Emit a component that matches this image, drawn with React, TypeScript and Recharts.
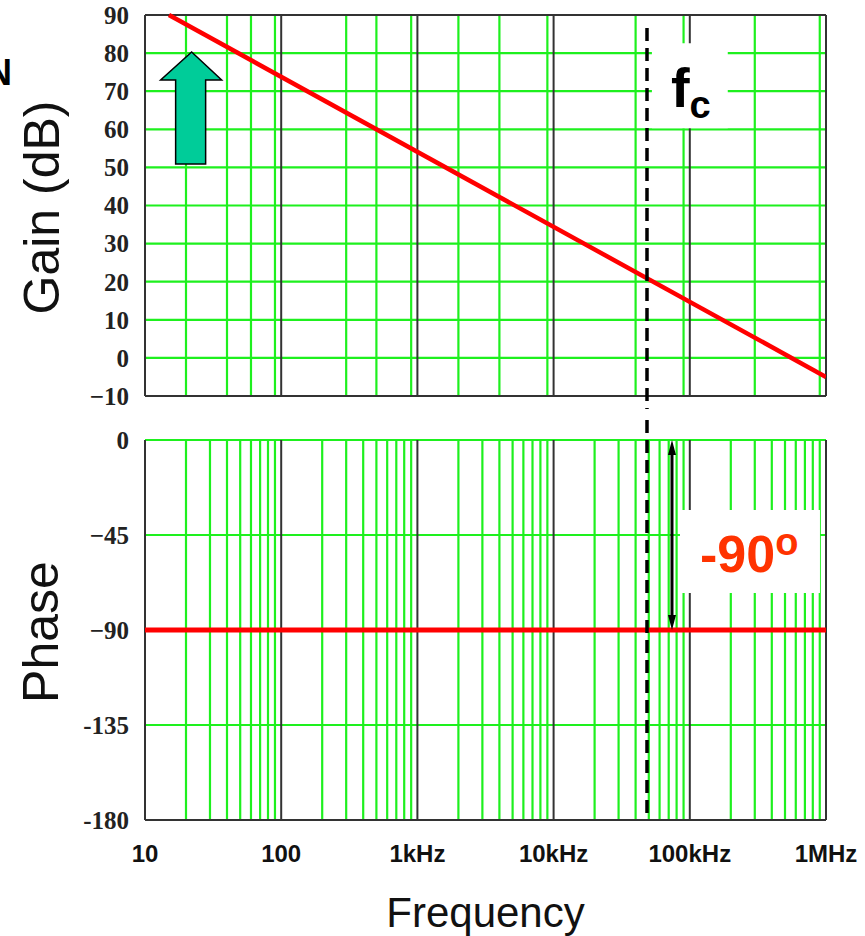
import {
  LineChart,
  Line,
  XAxis,
  YAxis,
  CartesianGrid,
  ReferenceLine,
  ReferenceArea,
  ReferenceDot,
} from "recharts";

// frequency axis
const decades = [10, 100, 1e3, 1e4, 1e5, 1e6];
const freqLabels = ["10", "100", "1kHz", "10kHz", "100kHz", "1MHz"];
const minorFreqs = [1, 10, 100, 1e3, 1e4].flatMap((d) =>
  [2, 3, 4, 5, 6, 7, 8, 9].map((m) => m * d * 10)
);

// gain panel
const gainTicks = [-10, 0, 10, 20, 30, 40, 50, 60, 70, 80, 90];
const gainLabels = ["\u221210", "0", "10", "20", "30", "40", "50", "60", "70", "80", "90"];
const gainData = [
  { f: 15, g: 90 },
  { f: 1e6, g: -5 },
];

// phase panel
const phaseTicks = [0, -45, -90, -135, -180];
const phaseLabels = ["0", "\u221245", "\u221290", "-135", "-180"];
const phaseData = [
  { f: 10, p: -90 },
  { f: 1e6, p: -90 },
];

const fc = 48500;
const arrowF = 74000;

const GREEN = "#1EF01E";
const DARK = "#333";
const RED = "#FF0000";

const yTick = {
  fill: "#222",
  fontSize: 25,
  fontWeight: "bold",
  fontFamily: "Liberation Serif",
};

const rotated = (text: string, bx: number) => ({ viewBox }: any) => (
  <text
    x={bx}
    y={viewBox.y + viewBox.height / 2 + 2}
    transform={`rotate(-90 ${bx} ${viewBox.y + viewBox.height / 2 + 2})`}
    textAnchor="middle"
    fontFamily="Arial"
    fontSize={50}
    fill="#111"
  >
    {text}
  </text>
);

const DoubleArrow = (props: any) => {
  const { x1, y1, x2, y2 } = props;
  return (
    <g>
      <line x1={x1} y1={y1 + 10} x2={x2} y2={y2 - 10} stroke="#000" strokeWidth={3} />
      <polygon points={`${x1},${y1} ${x1 - 4},${y1 + 15} ${x1 + 4},${y1 + 15}`} fill="#000" />
      <polygon points={`${x2},${y2} ${x2 - 4},${y2 - 15} ${x2 + 4},${y2 - 15}`} fill="#000" />
    </g>
  );
};

const UpArrow = ({ cx, cy }: any) => (
  <polygon
    points={[
      [cx, cy],
      [cx + 30, cy + 28],
      [cx + 14, cy + 28],
      [cx + 14, cy + 112],
      [cx - 16, cy + 112],
      [cx - 16, cy + 28],
      [cx - 31, cy + 28],
    ]
      .map((p) => p.join(","))
      .join(" ")}
    fill="#00CC99"
    stroke="#000"
    strokeWidth={1.5}
  />
);

const App = () => {
  return (
    <div style={{ position: "absolute", left: 0, top: 0, width: 865, height: 936, background: "#fff" }}>
      <div
        style={{
          position: "absolute",
          left: -14,
          top: 52,
          fontFamily: "Arial",
          fontWeight: "bold",
          fontSize: 36,
        }}
      >
        N
      </div>

      <div style={{ position: "absolute", left: 0, top: 0 }}>
        <LineChart width={865} height={420} data={gainData} margin={{ top: 15, right: 39, left: 0, bottom: 24 }}>
          <CartesianGrid
            stroke={GREEN}
            strokeWidth={2.2}
            verticalValues={minorFreqs}
            horizontalValues={gainTicks.slice(1, -1)}
          />
          <CartesianGrid
            stroke={DARK}
            strokeWidth={2}
            verticalValues={decades}
            horizontalValues={[-10, 90]}
          />
          <XAxis dataKey="f" type="number" scale="log" domain={[10, 1e6]} ticks={decades} hide allowDataOverflow />
          <YAxis
            type="number"
            domain={[-10, 90]}
            ticks={gainTicks}
            interval={0}
            width={145}
            axisLine={false}
            tickLine={false}
            tickSize={0}
            tickMargin={16}
            tick={yTick}
            tickFormatter={(v: number) => gainLabels[gainTicks.indexOf(v)]}
            label={{ content: rotated("Gain (dB)", 59) }}
          />
          <ReferenceArea
            x1={52700}
            x2={190000}
            y1={60.3}
            y2={82.6}
            fill="#fff"
            fillOpacity={1}
            stroke="none"
            ifOverflow="visible"
            label={({ viewBox }: any) => (
              <text x={viewBox.x + 19} y={viewBox.y + 64} fontFamily="Arial" fontWeight="bold" fontSize={56} fill="#000">
                f
                <tspan fontSize={38} dy={11}>
                  c
                </tspan>
              </text>
            )}
          />
          <Line
            dataKey="g"
            type="linear"
            stroke={RED}
            strokeWidth={4.5}
            dot={false}
            activeDot={false}
            isAnimationActive={false}
          />
          <ReferenceLine
            segment={[
              { x: fc, y: 86.6 },
              { x: fc, y: -13.4 },
            ]}
            stroke="#000"
            strokeWidth={3.5}
            strokeDasharray="13 7"
            ifOverflow="visible"
          />
          <ReferenceDot x={22} y={80.3} ifOverflow="visible" shape={UpArrow} />
        </LineChart>
      </div>

      <div style={{ position: "absolute", left: 0, top: 420 }}>
        <LineChart width={865} height={516} data={phaseData} margin={{ top: 20, right: 39, left: 0, bottom: 0 }}>
          <CartesianGrid
            stroke={GREEN}
            strokeWidth={2.2}
            verticalValues={minorFreqs}
            horizontalValues={[0, -45, -90, -135]}
          />
          <CartesianGrid
            stroke={DARK}
            strokeWidth={2}
            verticalValues={decades}
            horizontalValues={[-180]}
          />
          <XAxis
            dataKey="f"
            type="number"
            scale="log"
            domain={[10, 1e6]}
            ticks={decades}
            interval={0}
            height={116}
            axisLine={false}
            tickLine={false}
            tickSize={0}
            tickMargin={25}
            allowDataOverflow
            tick={{ fill: "#111", fontSize: 24, fontWeight: "bold", fontFamily: "Arial" }}
            tickFormatter={(v: number) => freqLabels[decades.indexOf(v)]}
            label={{ value: "Frequency", position: "insideBottom", offset: 9, fontSize: 42, fontFamily: "Arial", fill: "#111" }}
          />
          <YAxis
            type="number"
            domain={[-180, 0]}
            ticks={phaseTicks}
            interval={0}
            width={145}
            axisLine={false}
            tickLine={false}
            tickSize={0}
            tickMargin={16}
            tick={yTick}
            tickFormatter={(v: number) => phaseLabels[phaseTicks.indexOf(v)]}
            label={{ content: rotated("Phase", 58) }}
          />
          <ReferenceArea
            x1={84700}
            x2={903000}
            y1={-72.5}
            y2={-33.2}
            fill="#fff"
            fillOpacity={1}
            stroke="none"
            ifOverflow="visible"
            label={({ viewBox }: any) => (
              <text x={viewBox.x + 20} y={viewBox.y + 62} fontFamily="Arial" fontWeight="bold" fontSize={52} fill="#FF3300">
                -90
                <tspan fontSize={38} dy={-17}>
                  o
                </tspan>
              </text>
            )}
          />
          <Line
            dataKey="p"
            type="linear"
            stroke={RED}
            strokeWidth={5}
            dot={false}
            activeDot={false}
            isAnimationActive={false}
          />
          <ReferenceLine
            segment={[
              { x: fc, y: 9.5 },
              { x: fc, y: -178.5 },
            ]}
            stroke="#000"
            strokeWidth={3.5}
            strokeDasharray="13 7"
            ifOverflow="visible"
          />
          <ReferenceLine
            segment={[
              { x: arrowF, y: 0 },
              { x: arrowF, y: -90 },
            ]}
            ifOverflow="visible"
            shape={DoubleArrow}
          />
        </LineChart>
      </div>
    </div>
  );
};

export default App;
